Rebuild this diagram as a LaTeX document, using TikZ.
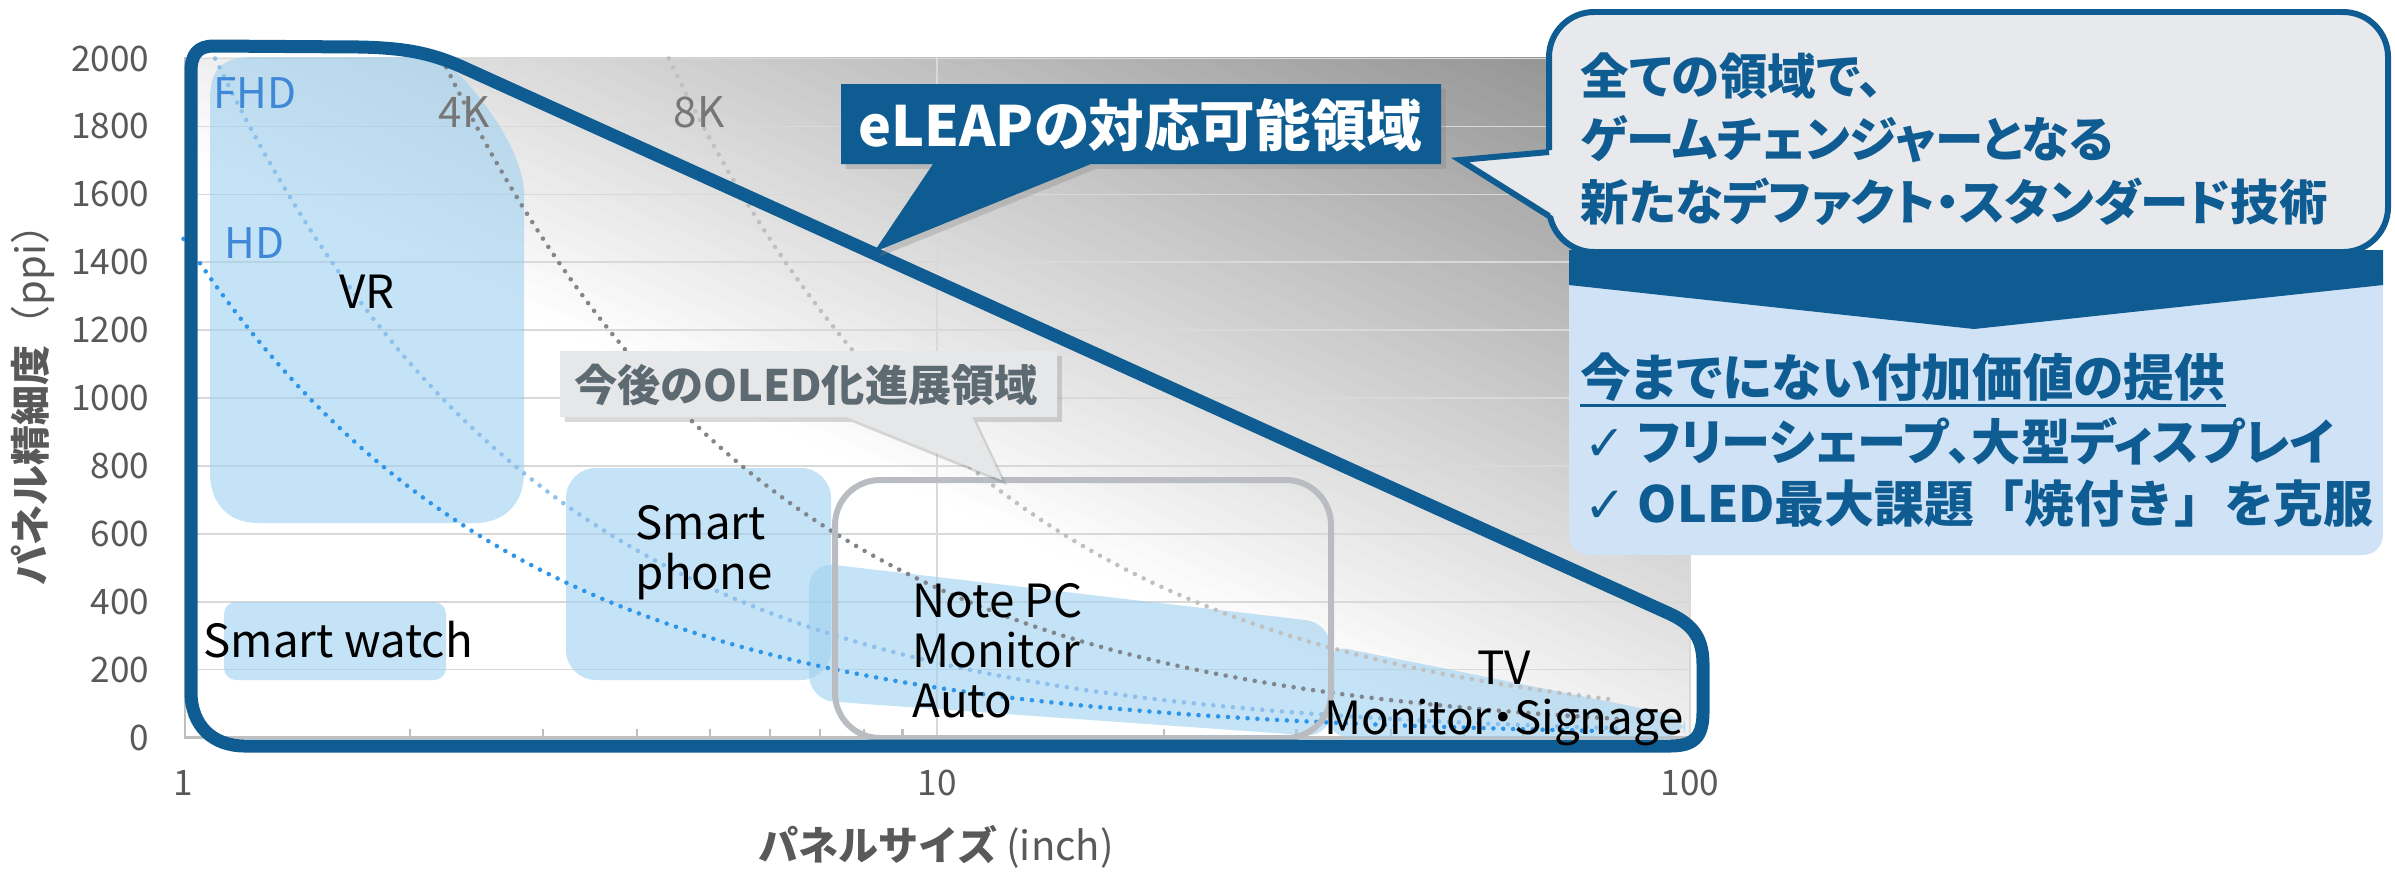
\documentclass[tikz,border=0pt]{standalone}
\usepackage{fontspec}
\usepackage{xcolor}
\usepackage{tikz}
\usetikzlibrary{shadows}
\setmainfont{Noto Sans CJK JP}
\newfontfamily\jpp[RawFeature=+palt]{Noto Sans CJK JP}
\newfontfamily\symb{DejaVu Sans}
\definecolor{leapblue}{RGB}{14,92,145}
\definecolor{regionblue}{RGB}{159,208,240}
\definecolor{bubblegray}{RGB}{231,233,236}
\definecolor{valueblue}{RGB}{207,226,246}
\definecolor{calloutgray}{RGB}{230,231,232}
\definecolor{callouttext}{RGB}{94,106,114}
\definecolor{outlinegray}{RGB}{185,189,193}
\definecolor{gridgray}{RGB}{217,217,217}
\definecolor{axisgray}{RGB}{191,191,191}
\definecolor{tickgray}{RGB}{89,89,89}
\definecolor{fhdblue}{RGB}{141,192,236}
\definecolor{hdblue}{RGB}{46,150,234}
\definecolor{fourkgray}{RGB}{128,134,140}
\definecolor{eightkgray}{RGB}{192,192,192}
\definecolor{reslabelblue}{RGB}{63,136,216}
\definecolor{reslabelgray}{RGB}{118,118,118}

\begin{document}
\begin{tikzpicture}[x=0.1mm,y=-0.1mm,
  gridline/.style={draw=gridgray,line width=0.45pt},
  axisline/.style={draw=axisgray,line width=0.6pt},
  ticklabel/.style={text=tickgray,font=\fontsize{10}{12}\selectfont,inner sep=0pt},
  axistitle/.style={text=tickgray,font=\fontsize{11.4}{13}\selectfont,inner sep=0pt},
  region/.style={fill=regionblue,fill opacity=0.6},
  ppicurve/.style={line width=1.3pt,line cap=round,dash pattern=on 0pt off 2.8pt},
  reslabel/.style={font=\fontsize{12}{14}\selectfont,inner sep=0pt,anchor=west},
  devlabel/.style={font=\fontsize{13}{14.2}\selectfont,inner sep=0pt},
  leapline/.style={draw=leapblue,line width=3.7pt,line join=round},
  boxshadow/.style={drop shadow={shadow xshift=1.4pt,shadow yshift=-1.4pt,opacity=0.3}},
  bubble/.style={draw=leapblue,line width=1.7pt,fill=bubblegray,rounded corners=4.5mm,
    minimum width=83.9mm,minimum height=24mm,inner sep=0pt},
  bluetext/.style={text=leapblue,inner sep=0pt,anchor=west}]
\useasboundingbox (0,0) rectangle (2395,873);
\begin{scope}
\clip (185,57) rectangle (1690,737.5);
\foreach \s in {0.85,0.875,...,2.0} {
  \pgfmathsetmacro\p{min(45,39.2*(\s-0.8375))}
  \fill[black!\p] ({185+1505*\s},737.5) -- ({185+1505*(\s+0.03)},737.5)
    -- ({185+1505*(\s-0.97)},57) -- ({185+1505*(\s-1)},57) -- cycle;
}
\end{scope}
\foreach \t in {200,400,...,2000}
  \draw[gridline] (185,{737.5-0.3395*\t}) -- (1690,{737.5-0.3395*\t});
\draw[gridline] (937,57) -- (937,737.5);
\draw[gridline] (1690,57) -- (1690,737.5);
\draw[axisline] (185,57) -- (185,737.5) -- (1690,737.5);
\foreach \k in {2,...,9} {
  \draw[axisline] ({183.5+753.5*log10(\k)},737.5) -- ++(0,-9);
  \draw[axisline] ({183.5+753.5*(1+log10(\k))},737.5) -- ++(0,-9);
}
\foreach \t in {0,200,...,2000}
  \node[ticklabel,anchor=east] (y\t) at (150,{737.5-0.3395*\t}) {\t};
\node[ticklabel] (x1) at (183.5,783) {1};
\node[ticklabel] (x10) at (937,783) {10};
\node[ticklabel] (x100) at (1690,783) {100};
\node[axistitle] (xtitle) at (936,847) {\textbf{パネルサイズ} (inch)};
\node[axistitle,rotate=90] (ytitle) at (33,395) {\textbf{パネル精細度}（ppi）};

\fill[region] (210,100) .. controls (210,68) and (222,57) .. (255,57) -- (435,57)
  .. controls (450,57) and (520,135) .. (524,190) -- (524,473)
  .. controls (524,503) and (505,523) .. (475,523) -- (258,523)
  .. controls (228,523) and (210,503) .. (210,473) -- cycle;
\fill[region,rounded corners=1.2mm] (224,602) rectangle (446,680);
\fill[region,rounded corners=3mm] (566,468) rectangle (831,680);
\fill[region,rounded corners=2.5mm] (809,562) -- (1331,623) -- (1331,737) -- (809,700) -- cycle;
\fill[region,rounded corners=2mm] (1328,645) -- (1685,717) -- (1685,737) -- (1328,737) -- cycle;

\draw[ppicurve,draw=eightkgray] plot[domain=0.644:1.903,samples=90] ({183.5+753.5*\x},{737.5-0.3395*8811/10^\x});
\draw[ppicurve,draw=fourkgray] plot[domain=0.343:1.903,samples=90] ({183.5+753.5*\x},{737.5-0.3395*4406/10^\x});
\draw[ppicurve,draw=fhdblue] plot[domain=0.042:1.903,samples=90] ({183.5+753.5*\x},{737.5-0.3395*2203/10^\x});
\draw[ppicurve,draw=hdblue] plot[domain=0:1.903,samples=90] ({183.5+753.5*\x},{737.5-0.3395*1469/10^\x});

\draw[draw=outlinegray,line width=1.7pt,rounded corners=4.5mm] (835,480) rectangle (1331,738);

\draw[leapline] (214,46) -- (360,47) .. controls (405,48) and (430,53) .. (460,66) -- (1668,613)
  .. controls (1695,625) and (1703,640) .. (1703,665) -- (1703,712)
  .. controls (1703,737) and (1694,746) .. (1670,746) -- (245,746)
  .. controls (212,746) and (191,725) .. (191,692) -- (191,72)
  .. controls (191,55) and (197,46) .. (214,46) -- cycle;

\node[reslabel,text=reslabelblue] (fhd) at (213,93) {FHD};
\node[reslabel,text=reslabelblue] (hd) at (224,243) {HD};
\node[reslabel,text=reslabelgray] (fourk) at (438,112) {4K};
\node[reslabel,text=reslabelgray] (eightk) at (673,112) {8K};

\node[devlabel] (vr) at (367,292) {VR};
\node[devlabel,anchor=west] (watch) at (203,640) {Smart watch};
\node[devlabel,anchor=west,align=left] (phone) at (635,553) {Smart\\phone};
\node[devlabel,anchor=west,align=left] (notepc) at (912,651) {Note PC\\Monitor\\Auto};
\node[devlabel,align=center] (tv) at (1504,698) {TV\\Monitor{\jpp ・}Signage};

\fill[calloutgray,boxshadow] (560,351) -- (1057,351) -- (1057,417) -- (972,417) -- (1002,480)
  -- (847,417) -- (560,417) -- cycle;
\node[text=callouttext,inner sep=0pt,font=\fontsize{12.3}{14}\selectfont\bfseries\jpp] (future) at (806,385) {今後のOLED化進展領域};

\fill[leapblue,boxshadow] (841,84) -- (1441,84) -- (1441,164) -- (1091,164) -- (874,252)
  -- (933,164) -- (841,164) -- cycle;
\node[text=white,inner sep=0pt,font=\fontsize{15.8}{17}\selectfont\bfseries\jpp] (capable) at (1140,125) {eLEAPの対応可能領域};

\fill[valueblue,rounded corners=2mm] (1569,250) rectangle (2383,555);
\fill[leapblue] (1569,250) -- (2383,250) -- (2383,285) -- (1974,329) -- (1569,285) -- cycle;
\node[bubble] (claim) at (1968.5,132) {};
\fill[bubblegray] (1553,150) -- (1460,160) -- (1553,216) -- cycle;
\draw[leapblue,line width=1.7pt,line join=miter] (1549,152) -- (1460,160) -- (1549,216);
\node[bluetext,align=left,font=\fontsize{13.8}{18}\selectfont\bfseries\jpp] (claimtext) at (1580,139)
  {全ての領域で、\\ゲームチェンジャーとなる\\新たなデファクト・スタンダード技術};
\node[bluetext,font=\fontsize{14.4}{16}\selectfont\bfseries\jpp] (value) at (1580,377) {今までにない付加価値の提供};
\draw[leapblue,line width=0.9pt] ([yshift=-1pt]value.south west) -- ([yshift=-1pt]value.south east);
\node[bluetext,font=\fontsize{14}{16}\selectfont\bfseries\jpp] (shape) at (1584,441) {{\symb\mdseries ✓} フリーシェープ、大型ディスプレイ};
\node[bluetext,font=\fontsize{14.2}{16}\selectfont\bfseries] (burnin) at (1584,504) {{\symb\mdseries ✓} OLED最大課題「焼付き」を克服};
\end{tikzpicture}
\end{document}
